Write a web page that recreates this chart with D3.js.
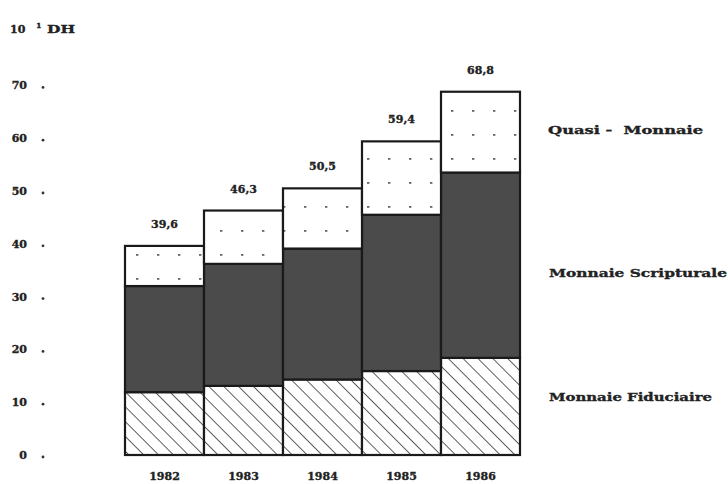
<!DOCTYPE html>
<html><head><meta charset="utf-8">
<script src="https://cdn.jsdelivr.net/npm/d3@7"></script>
<style>body{margin:0;background:#fff}svg{display:block}</style>
</head><body>
<script>
const years = ["1982","1983","1984","1985","1986"];
const fiduciaire = [11.9, 13.1, 14.3, 15.9, 18.4];
const scripturale = [20.1, 23.1, 24.8, 29.6, 35.1];
const quasi = [7.6, 10.1, 11.4, 13.9, 15.3];
const totals = ["39,6","46,3","50,5","59,4","68,8"];
const seriesNames = ["Monnaie Fiduciaire","Monnaie Scripturale","Quasi -  Monnaie"];
const yTicks = [0,10,20,30,40,50,60,70];

const W = 728, H = 484;
const svg = d3.select("body").append("svg").attr("width", W).attr("height", H);
const defs = svg.append("defs");
const hatch = defs.append("pattern").attr("id","hatch").attr("patternUnits","userSpaceOnUse")
  .attr("width",10.5).attr("height",10.5).attr("patternTransform","rotate(-45)");
hatch.append("rect").attr("width",10.5).attr("height",10.5).attr("fill","#fff");
hatch.append("line").attr("x1",0).attr("y1",0).attr("x2",0).attr("y2",10.5)
  .attr("stroke","#2a2a2a").attr("stroke-width",1.5);
const dots = defs.append("pattern").attr("id","dots").attr("patternUnits","userSpaceOnUse")
  .attr("width",21).attr("height",24).attr("x",2).attr("y",4);
dots.append("rect").attr("width",21).attr("height",24).attr("fill","#fff");
dots.append("rect").attr("x",8).attr("y",10).attr("width",2.4).attr("height",1.8).attr("fill","#666");

const font = "'DejaVu Serif', serif";
const x = d3.scaleBand().domain(years).range([125, 520]).padding(0);
const y = d3.scaleLinear().domain([0, 70]).range([455, 85.4]);

const data = years.map((yr,i)=>({year:yr, fid:fiduciaire[i], scr:scripturale[i], qua:quasi[i]}));
const stack = d3.stack().keys(["fid","scr","qua"])(data);
const fills = ["url(#hatch)", "#4b4b4b", "url(#dots)"];

stack.forEach((layer, li) => {
  svg.append("g").selectAll("rect").data(layer).join("rect")
    .attr("x", d => x(d.data.year))
    .attr("width", x.bandwidth())
    .attr("y", d => y(d[1]))
    .attr("height", d => y(d[0]) - y(d[1]))
    .attr("fill", fills[li])
    .attr("stroke", "#1a1a1a").attr("stroke-width", 2.2);
});

function boldText(sel, size) {
  return sel.attr("font-family", font).attr("font-weight","bold").attr("font-size", size)
    .attr("fill","#222").attr("stroke","#222").attr("stroke-width",0.35);
}

// value labels
boldText(svg.append("g").selectAll("text").data(stack[2]).join("text"), 11)
  .attr("x", d => x(d.data.year) + x.bandwidth()/2)
  .attr("y", (d) => y(d[1]) - 18)
  .attr("text-anchor","middle")
  .text((d,i) => totals[i]);

// x labels
boldText(svg.append("g").selectAll("text").data(years).join("text"), 11)
  .attr("x", d => x(d) + x.bandwidth()/2)
  .attr("y", 480)
  .attr("text-anchor","middle")
  .text(d => d);

// y axis labels and dots
const ya = svg.append("g");
boldText(ya.selectAll("text").data(yTicks).join("text"), 11)
  .attr("x", 27).attr("y", d => y(d) + 4)
  .attr("text-anchor","end")
  .text(d => d);
ya.selectAll("circle").data(yTicks).join("circle")
  .attr("cx", 43).attr("cy", d => y(d) + 2).attr("r", 1.4).attr("fill","#333");

// unit title
const t = boldText(svg.append("text").attr("y", 33), 11);
t.append("tspan").attr("x", 10).text("10");
t.append("tspan").attr("x", 36).attr("dy", -5).attr("font-size", 8).text("1");
t.append("tspan").attr("x", 47).attr("dy", 5).attr("textLength", 28).attr("lengthAdjust","spacingAndGlyphs").text("DH");

// legend labels
const legendY = [401, 277, 134];
const legendX = [549, 549, 548];
const legendLen = [163, 178, 155];
boldText(svg.append("g").selectAll("text").data(seriesNames).join("text"), 11.5)
  .attr("x", (d,i) => legendX[i]).attr("y", (d,i) => legendY[i])
  .attr("textLength", (d,i) => legendLen[i]).attr("lengthAdjust","spacingAndGlyphs")
  .style("white-space","pre")
  .text(d => d);
</script>
</body></html>
